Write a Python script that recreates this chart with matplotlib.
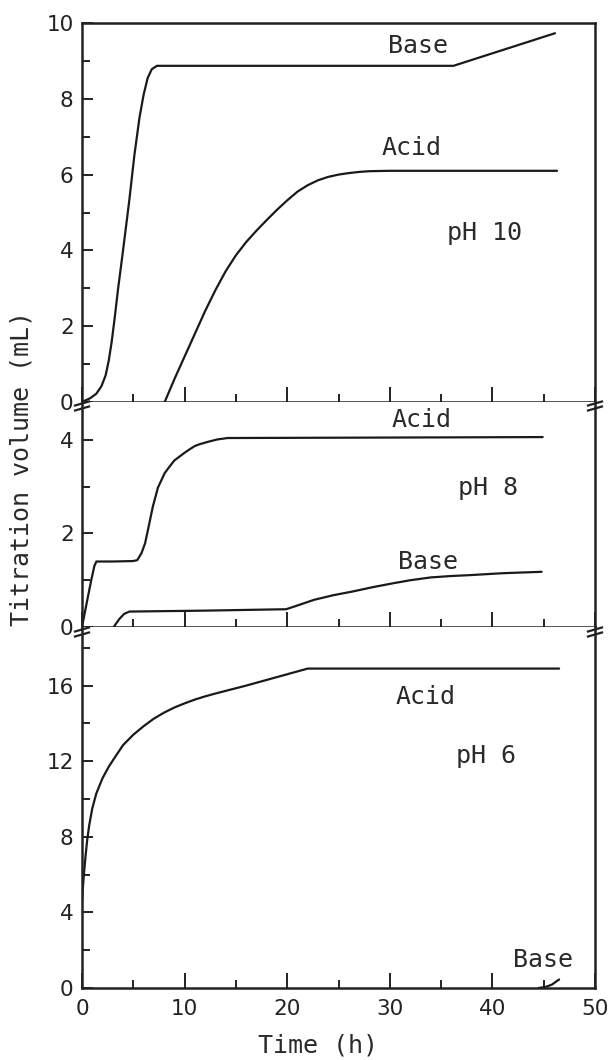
import matplotlib
matplotlib.use("Agg")
import matplotlib.pyplot as plt
from matplotlib.lines import Line2D
from matplotlib.ticker import MultipleLocator

plt.rcParams['font.family'] = ['DejaVu Sans']

# ---------------- data ----------------
# pH 10 panel
ph10_base_t = [0, 0.8, 1.4, 1.9, 2.3, 2.6, 2.9, 3.2, 3.5, 4.0, 4.6, 5.1, 5.6, 6.0, 6.4, 6.8, 7.3, 20, 36.2, 46.1]
ph10_base_v = [0, 0.1, 0.22, 0.42, 0.7, 1.08, 1.6, 2.25, 2.95, 4.0, 5.3, 6.5, 7.5, 8.1, 8.55, 8.78, 8.87, 8.87, 8.87, 9.73]
ph10_acid_t = [8.06, 9, 10, 11, 12, 13, 14, 15, 16, 17, 18, 19, 20, 21, 22, 23, 24, 25, 26, 27, 28, 30, 46.3]
ph10_acid_v = [0, 0.6, 1.2, 1.8, 2.4, 2.95, 3.45, 3.87, 4.22, 4.52, 4.8, 5.07, 5.32, 5.55, 5.72, 5.85, 5.94, 6.0, 6.04, 6.07, 6.09, 6.1, 6.1]

# pH 8 panel
ph8_acid_t = [0, 0.4, 0.9, 1.2, 1.4, 3.0, 5.0, 5.39, 5.8, 6.15, 6.5, 6.9, 7.4, 7.7, 8.06, 8.5, 9.0, 9.97, 10.5, 11.0, 11.5, 12.3, 13.2, 14.2, 30, 44.9]
ph8_acid_v = [0, 0.45, 1.0, 1.3, 1.40, 1.40, 1.41, 1.43, 1.58, 1.79, 2.15, 2.57, 2.98, 3.12, 3.29, 3.42, 3.56, 3.72, 3.8, 3.87, 3.91, 3.96, 4.01, 4.04, 4.05, 4.06]
ph8_base_t = [3.09, 3.6, 4.1, 4.62, 12, 19.9, 21.0, 22.6, 24.5, 26.4, 28.3, 30.2, 32, 34.0, 36, 37.9, 41.0, 44.8]
ph8_base_v = [0, 0.16, 0.28, 0.33, 0.35, 0.38, 0.46, 0.58, 0.68, 0.76, 0.85, 0.93, 1.0, 1.06, 1.09, 1.11, 1.15, 1.18]

# pH 6 panel
ph6_acid_t = [0, 0.1, 0.2, 0.35, 0.5, 0.7, 1.0, 1.4, 2.0, 2.6, 3.2, 4.0, 5.0, 6, 7, 8, 9, 10, 11, 12, 13, 14, 15, 16, 17, 18, 19, 20, 21, 22, 30, 46.5]
ph6_acid_v = [4.6, 5.4, 6.1, 7.0, 7.8, 8.6, 9.5, 10.3, 11.1, 11.7, 12.2, 12.85, 13.4, 13.85, 14.25, 14.57, 14.84, 15.06, 15.26, 15.43, 15.58, 15.72, 15.86, 16.0, 16.15, 16.3, 16.45, 16.6, 16.75, 16.9, 16.9, 16.9]
ph6_base_t = [44.5, 45.2, 45.8, 46.5]
ph6_base_v = [0, 0.06, 0.18, 0.45]

x_ticks = [0, 10, 20, 30, 40, 50]
ph10_yticks = [0, 2, 4, 6, 8, 10]
ph8_yticks = [0, 2, 4]
ph6_yticks = [0, 4, 8, 12, 16]

# ---------------- figure ----------------
W, H = 615, 1060
fig = plt.figure(figsize=(W / 100, H / 100), dpi=100)

left, right = 82 / W, 595 / W
def yf(px):
    return 1 - px / H

panels = [
    (23, 402, 10.0, ph10_yticks, 1),
    (402, 627, 4.81, ph8_yticks, 1),
    (627, 988, 19.1, ph6_yticks, 2),
]

LW = 1.6
FS = 15.5
TFS = 18
TFAM = ['DejaVu Sans Mono']
axes = []
for top_px, bot_px, ymax, yt, yminor in panels:
    ax = fig.add_axes([left, yf(bot_px), right - left, yf(top_px) - yf(bot_px)])
    ax.set_xlim(0, 50)
    ax.set_ylim(0, ymax)
    ax.set_yticks(yt)
    ax.yaxis.set_minor_locator(MultipleLocator(yminor))
    ax.set_xticks(x_ticks)
    ax.xaxis.set_minor_locator(MultipleLocator(5))
    ax.tick_params(which='both', direction='in', width=1.4, top=False, right=False,
                   labelsize=FS, colors='#222222')
    ax.tick_params(axis='x', which='major', length=11, pad=8)
    ax.tick_params(axis='x', which='minor', length=6)
    ax.tick_params(axis='y', which='major', length=8, pad=6)
    ax.tick_params(axis='y', which='minor', length=6)
    for s in ax.spines.values():
        s.set_linewidth(1.8)
        s.set_color('#222222')
    axes.append(ax)

ax10, ax8, ax6 = axes
ax10.tick_params(axis='x', labelbottom=False)
ax8.tick_params(axis='x', labelbottom=False)
ax8.spines['top'].set_visible(False)
ax6.spines['top'].set_visible(False)

lc = '#1a1a1a'
for ax, t, v in [(ax10, ph10_base_t, ph10_base_v), (ax10, ph10_acid_t, ph10_acid_v),
                 (ax8, ph8_acid_t, ph8_acid_v), (ax8, ph8_base_t, ph8_base_v),
                 (ax6, ph6_acid_t, ph6_acid_v), (ax6, ph6_base_t, ph6_base_v)]:
    ax.plot(t, v, color=lc, lw=LW, solid_joinstyle='round', solid_capstyle='round')

tc = '#2a2a2a'
def lab(ax, x, y, s):
    ax.text(x, y, s, fontsize=TFS, family=TFAM, ha='center', va='center', color=tc)

lab(ax10, 32.7, 9.38, 'Base')
lab(ax10, 32.1, 6.69, 'Acid')
lab(ax10, 39.2, 4.45, 'pH 10')
lab(ax8, 33.1, 4.43, 'Acid')
lab(ax8, 39.6, 2.97, 'pH 8')
lab(ax8, 33.7, 1.40, 'Base')
lab(ax6, 33.5, 15.4, 'Acid')
lab(ax6, 39.4, 12.3, 'pH 6')
lab(ax6, 44.9, 1.48, 'Base')

# axis break marks at panel boundaries
for by in (406, 632):
    for bx in (82, 595):
        for dy in (-2.5, 2.5):
            fig.add_artist(Line2D([(bx - 7) / W, (bx + 7) / W],
                                  [yf(by + dy + 2), yf(by + dy - 2)],
                                  color='#222222', lw=1.6))

fig.text(22 / W, yf(468), 'Titration volume (mL)', rotation=90, ha='center', va='center',
         fontsize=TFS, family=TFAM, color=tc)
fig.text(318 / W, yf(1045), 'Time (h)', ha='center', va='center', fontsize=TFS,
         family=TFAM, color=tc)

fig.savefig('out.png', dpi=100, facecolor='white')
